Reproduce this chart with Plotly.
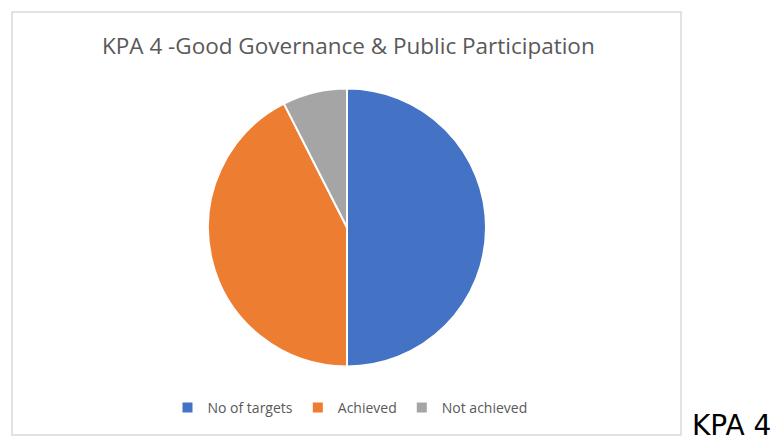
import plotly.graph_objects as go

W, H = 777, 439

categories = ["No of targets", "Achieved", "Not achieved"]
values = [20, 17, 3]
colors = ["#4472C4", "#ED7D31", "#A5A5A5"]

title_text = "KPA 4 -Good Governance & Public Participation"
side_label = "KPA 4"

cx, cy, r = 347, 227.5, 139

fig = go.Figure(go.Pie(
    labels=categories,
    values=values,
    sort=False,
    direction="clockwise",
    rotation=0,
    textinfo="none",
    hoverinfo="label+value+percent",
    marker=dict(colors=colors, line=dict(color="white", width=2)),
    domain=dict(x=[(cx - r) / W, (cx + r) / W], y=[1 - (cy + r) / H, 1 - (cy - r) / H]),
))

fig.update_layout(
    width=W, height=H,
    margin=dict(l=0, r=0, t=0, b=0),
    paper_bgcolor="white",
    plot_bgcolor="white",
    showlegend=True,
    legend=dict(
        orientation="h",
        x=350 / W, xanchor="center",
        y=1 - 408 / H, yanchor="middle",
        font=dict(family="Open Sans", size=14, color="#595959"),
        itemwidth=30,
        bgcolor="rgba(0,0,0,0)",
    ),
    shapes=[dict(
        type="rect", xref="paper", yref="paper",
        x0=12 / W, x1=681 / W, y0=1 - 435 / H, y1=1 - 12 / H,
        line=dict(color="#D9D9D9", width=1.5), fillcolor="rgba(0,0,0,0)", layer="below",
    )],
    annotations=[
        dict(text=title_text, x=348 / W, y=1 - 45 / H, xref="paper", yref="paper",
             xanchor="center", yanchor="middle", showarrow=False,
             font=dict(family="Open Sans", size=22.5, color="#595959")),
        dict(text=side_label, x=691 / W, y=1 - 425 / H, xref="paper", yref="paper",
             xanchor="left", yanchor="middle", showarrow=False, borderpad=0,
             font=dict(family="DejaVu Sans", size=28, color="#000000")),
    ],
)

fig.write_html("out.html")
